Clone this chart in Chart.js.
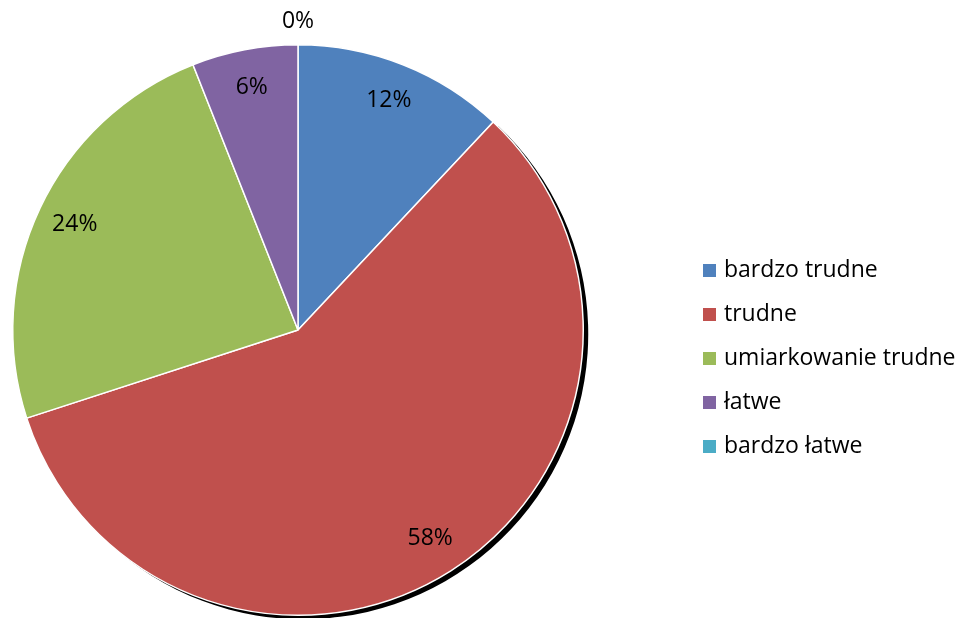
<!DOCTYPE html>
<html>
<head>
<meta charset="utf-8">
<script src="https://cdn.jsdelivr.net/npm/chart.js@4"></script>
<style>
  html, body { margin: 0; padding: 0; background: #fff; }
  #wrap { width: 962px; height: 618px; }
</style>
</head>
<body>
<div id="wrap"><canvas id="difficultyPie"></canvas></div>
<script>
var lbls = ["bardzo trudne", "trudne", "umiarkowanie trudne", "łatwe", "bardzo łatwe"];
var vals = [12, 58, 24, 6, 0];
var cols = ["#4F81BD", "#C0504D", "#9BBB59", "#8064A2", "#4BACC6"];

var fontFam = "'Open Sans', Lato, sans-serif";

// black drop shadow behind the "trudne" slice
var shadowPlugin = {
    id: "sliceShadow",
    beforeDatasetsDraw: function (chart) {
        var arc = chart.getDatasetMeta(0).data[1];
        var ctx = chart.ctx;
        ctx.save();
        ctx.fillStyle = "#000";
        ctx.beginPath();
        ctx.moveTo(arc.x + 5, arc.y + 4);
        ctx.arc(arc.x + 5, arc.y + 4, arc.outerRadius, arc.startAngle, arc.endAngle);
        ctx.closePath();
        ctx.fill();
        ctx.restore();
    }
};

// percent labels + legend on the right
var labelPlugin = {
    id: "pctLabels",
    afterDraw: function (chart) {
        var ctx = chart.ctx;
        var meta = chart.getDatasetMeta(0);
        ctx.save();
        ctx.fillStyle = "#000";
        ctx.textAlign = "center";
        ctx.textBaseline = "middle";
        ctx.font = "23px " + fontFam;
        meta.data.forEach(function (arc, i) {
            var mid = (arc.startAngle + arc.endAngle) / 2;
            var r = vals[i] === 0 ? arc.outerRadius + 23 : arc.outerRadius * 0.865;
            ctx.fillText(vals[i] + "%", arc.x + Math.cos(mid) * r, arc.y + Math.sin(mid) * r);
        });

        ctx.textAlign = "left";
        ctx.font = "23px " + fontFam;
        lbls.forEach(function (l, i) {
            var y = 270 + i * 44;
            ctx.fillStyle = cols[i];
            ctx.fillRect(703, y - 6, 13, 13);
            ctx.fillStyle = "#000";
            ctx.fillText(l, 724, y);
        });
        ctx.restore();
    }
};

new Chart("difficultyPie", {
    type: "pie",
    data: {
        labels: lbls,
        datasets: [{
            data: vals,
            backgroundColor: cols,
            borderColor: "#fff",
            borderWidth: 1.5
        }]
    },
    options: {
        responsive: true,
        maintainAspectRatio: false,
        animation: false,
        layout: {
            padding: { left: 12, top: 44, right: 378, bottom: 2 }
        },
        plugins: {
            legend: { display: false },
            tooltip: { enabled: false }
        }
    },
    plugins: [shadowPlugin, labelPlugin]
});
</script>
</body>
</html>
